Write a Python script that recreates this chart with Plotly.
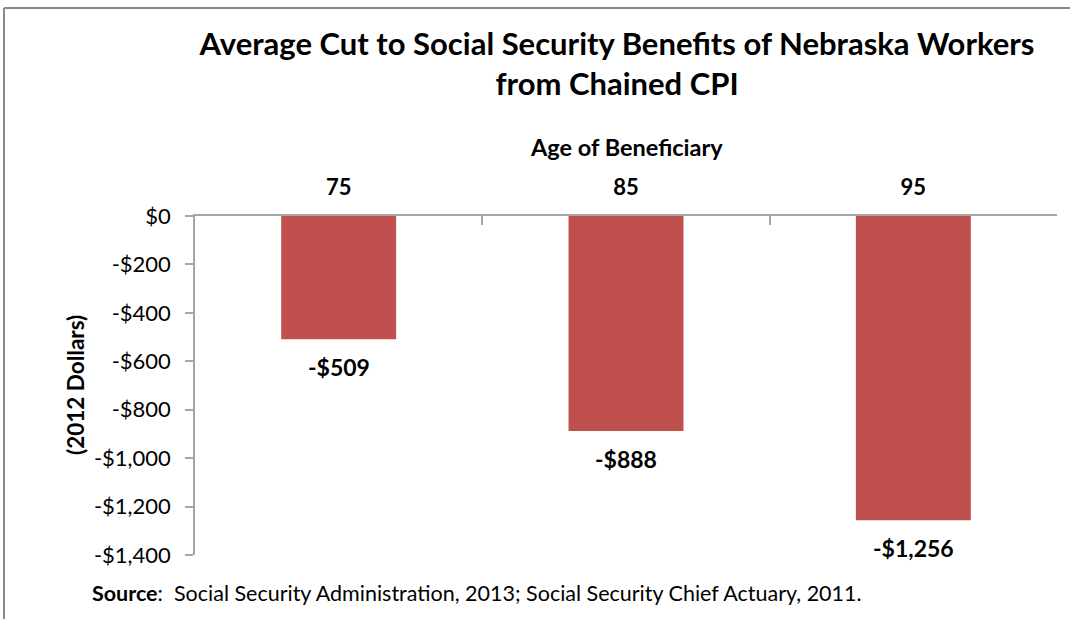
import plotly.graph_objects as go

ages = ["75", "85", "95"]
cuts = [-509, -888, -1256]
cut_labels = ["-$509", "-$888", "-$1,256"]
y_ticks = [0, -200, -400, -600, -800, -1000, -1200, -1400]
y_tick_labels = ["$0", "-$200", "-$400", "-$600", "-$800", "-$1,000", "-$1,200", "-$1,400"]

W, H = 1070, 619
L, R, T, B = 195, 13, 216, 64
pw, ph = W - L - R, H - T - B

def px(x):
    return (x - L) / pw

def py(y):
    return (H - B - y) / ph

FONT = "Lato"
AX = "#A6A6A6"

fig = go.Figure(go.Bar(
    x=ages, y=cuts, width=0.4,
    marker=dict(color="#C0504D", line=dict(width=0)),
    hoverinfo="x+y",
))

# category axis: annotation x is the category index on the library's category scale
label_anns = [
    dict(x=i, y=v, xref="x", yref="y", text="<b>%s</b>" % t, showarrow=False,
         xanchor="center", yanchor="middle", yshift=-28,
         font=dict(family=FONT, size=23, color="black"))
    for i, (v, t) in enumerate(zip(cuts, cut_labels))
]

fig.update_layout(
    width=W, height=H,
    margin=dict(l=L, r=R, t=T, b=B, autoexpand=False),
    paper_bgcolor="white", plot_bgcolor="white",
    showlegend=False,
    font=dict(family=FONT, color="black"),
    title=dict(
        text="Average Cut to Social Security Benefits of Nebraska Workers<br>from Chained CPI",
        x=617 / W, xanchor="center", xref="container",
        y=1 - 55 / H, yanchor="middle", yref="container",
        font=dict(family=FONT, size=31, color="black", weight="bold"),
    ),
    xaxis=dict(
        side="top", type="category", range=[-0.5, 2.5],
        showline=True, linecolor=AX, linewidth=1.5,
        ticks="inside", tickson="boundaries", ticklen=9, tickcolor=AX, tickwidth=1.5,
        tickfont=dict(family=FONT, size=22, color="black", weight="bold"),
        ticklabelstandoff=10,
        showgrid=False, zeroline=False,
    ),
    yaxis=dict(
        range=[-1400, 0], tickvals=y_ticks, ticktext=y_tick_labels,
        showline=True, linecolor=AX, linewidth=1.5,
        ticks="outside", ticklen=8, tickcolor=AX, tickwidth=1.5,
        tickfont=dict(family=FONT, size=22, color="black"),
        ticklabelstandoff=10,
        showgrid=False, zeroline=False,
    ),
    annotations=label_anns + [
        dict(text="<b>Age of Beneficiary</b>", x=0.5, xref="paper", y=py(147), yref="paper",
             xanchor="center", yanchor="middle", showarrow=False,
             font=dict(family=FONT, size=23.5, color="black")),
        dict(text="<b>(2012 Dollars)</b>", x=px(75), xref="paper", y=py(385), yref="paper",
             xanchor="center", yanchor="middle", showarrow=False, textangle=-90,
             font=dict(family=FONT, size=22.5, color="black")),
        dict(text="<b>Source</b>:  Social Security Administration, 2013; Social Security Chief Actuary, 2011.",
             x=px(90), xref="paper", y=py(593), yref="paper",
             xanchor="left", yanchor="middle", showarrow=False,
             font=dict(family=FONT, size=21.5, color="black")),
    ],
    shapes=[
        dict(type="line", xref="paper", yref="paper", x0=px(4), x1=px(1072), y0=py(8), y1=py(8),
             line=dict(color="#888888", width=2)),
        dict(type="line", xref="paper", yref="paper", x0=px(4), x1=px(4), y0=py(8), y1=py(621),
             line=dict(color="#888888", width=2)),
    ],
)

fig.write_html("out.html", config={"displayModeBar": False},
               post_script="document.body.style.margin='0';document.body.style.overflow='hidden';")
